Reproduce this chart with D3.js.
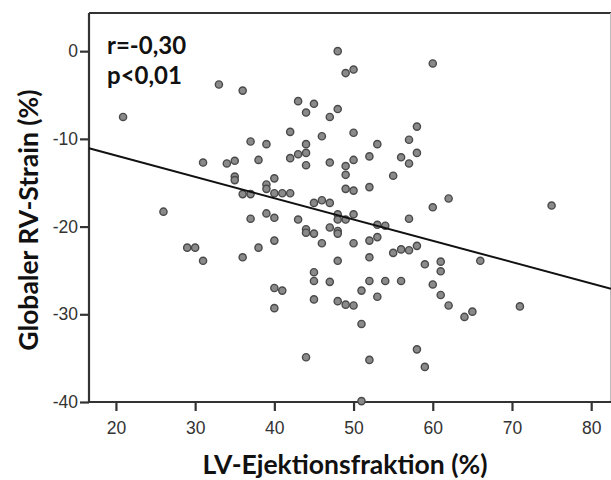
<!DOCTYPE html>
<html>
<head>
<meta charset="utf-8">
<script src="https://cdn.jsdelivr.net/npm/d3@7"></script>
<style>
  html, body { margin: 0; padding: 0; background: #fff; }
  svg { display: block; }
</style>
</head>
<body>
<svg id="chart" width="611" height="480"></svg>
<script>
// LV ejection fraction (%) for each patient
const lvef = [
  20.9, 26, 29, 30, 31, 31, 33, 34, 35, 35, 35, 36, 36, 36, 37, 37, 37, 38, 38,
  39, 39, 39, 39, 40, 40, 40, 40, 40, 40, 41, 41, 42, 42, 42, 43, 43, 43,
  44, 44, 44, 44, 44, 44, 44, 45, 45, 45, 45, 45, 45, 46, 46, 46, 47, 47, 47, 47, 47,
  48, 48, 48, 48, 48, 48, 48, 48, 49, 49, 49, 49, 49, 49, 50, 50, 50, 50, 50, 50, 50,
  51, 51, 51, 52, 52, 52, 52, 52, 52, 53, 53, 53, 53, 54, 54, 55, 55, 56, 56, 56,
  57, 57, 57, 57, 58, 58, 58, 58, 59, 59, 60, 60, 60, 61, 61, 61, 62, 62, 64, 65, 66, 71, 75
];
// Global RV strain (%) for each patient, same order
const rvStrain = [
  -7.5, -18.3, -22.4, -22.4, -23.9, -12.7, -3.8, -12.8, -12.5, -14.3, -14.7, -4.5, -16.3, -23.5, -10.3, -16.3, -19.1, -12.4, -22.4,
  -10.6, -15.2, -15.7, -18.5, -14.5, -16.2, -19.0, -21.6, -27.0, -29.3, -16.2, -27.3, -9.2, -12.2, -16.2, -5.7, -11.75, -19.2,
  -7.0, -10.6, -11.6, -13.0, -20.3, -20.7, -34.9, -6.0, -17.3, -20.8, -25.2, -26.2, -28.3, -9.7, -17.0, -21.9, -7.5, -12.7, -17.3, -20.1, -26.3,
  0.0, -6.6, -18.6, -19.2, -20.5, -20.8, -23.9, -28.5, -2.5, -13.1, -14.1, -15.7, -19.2, -28.9, -2.1, -9.3, -12.4, -15.9, -18.6, -21.9, -29.0,
  -27.3, -31.1, -39.9, -12.0, -15.5, -21.6, -23.5, -26.2, -35.2, -10.6, -19.8, -21.2, -28.0, -19.9, -26.2, -14.2, -23.0, -12.1, -22.6, -26.2,
  -10.1, -12.8, -19.1, -22.7, -8.6, -11.6, -22.2, -34.0, -24.3, -36.0, -1.4, -17.8, -26.6, -24.0, -25.1, -27.8, -16.8, -29.0, -30.3, -29.7, -23.9, -29.1, -17.6
];

// Linear fit: strain = intercept + slope * LVEF
const fitIntercept = -7.04;
const fitSlope = -0.243;

const xTicks = [20, 30, 40, 50, 60, 70, 80];
const yTicks = [0, -10, -20, -30, -40];

const xTitle = "LV-Ejektionsfraktion (%)";
const yTitle = "Globaler RV-Strain (%)";
const statLines = ["r=-0,30", "p<0,01"];

const svg = d3.select("#chart");
const plot = { left: 89, right: 611, top: 13, bottom: 402 };

const x = d3.scaleLinear().domain([16.6, 82.5]).range([plot.left, plot.right]);
const y = d3.scaleLinear().domain([-40, 4.35]).range([plot.bottom, plot.top]);

// Plain hyphen for negative numbers
const fmt = d => String(d);

// Plot frame
svg.append("line")
  .attr("x1", plot.left).attr("x2", plot.right)
  .attr("y1", plot.top).attr("y2", plot.top)
  .attr("stroke", "#333").attr("stroke-width", 2);
svg.append("line")
  .attr("x1", plot.right - 0.5).attr("x2", plot.right - 0.5)
  .attr("y1", plot.top).attr("y2", plot.bottom)
  .attr("stroke", "#bbb").attr("stroke-width", 1);

// Axes
const xAxis = svg.append("g")
  .attr("transform", `translate(0,${plot.bottom})`)
  .call(d3.axisBottom(x).tickValues(xTicks).tickFormat(fmt).tickSize(9).tickSizeOuter(0).tickPadding(11));
const yAxis = svg.append("g")
  .attr("transform", `translate(${plot.left},0)`)
  .call(d3.axisLeft(y).tickValues(yTicks).tickFormat(fmt).tickSize(9).tickSizeOuter(0).tickPadding(2));

[xAxis, yAxis].forEach(g => {
  g.select(".domain").attr("stroke", "#333").attr("stroke-width", 2.2);
  g.selectAll(".tick line").attr("stroke", "#333").attr("stroke-width", 2.2);
  g.selectAll(".tick text")
    .attr("fill", "#333")
    .style("font-family", "'Liberation Sans', Arial, sans-serif")
    .style("font-size", "17.5px");
});
xAxis.select(".domain").attr("d", `M${plot.left},0H${plot.right}`);
yAxis.select(".domain").attr("d", `M0,${plot.top}V${plot.bottom}`);

// Scatter points
svg.append("g")
  .selectAll("circle")
  .data(lvef.map((v, i) => [v, rvStrain[i]]))
  .join("circle")
  .attr("cx", d => x(d[0]))
  .attr("cy", d => y(d[1]))
  .attr("r", 3.6)
  .attr("fill", "#8a8a8a")
  .attr("stroke", "#4a4a4a")
  .attr("stroke-width", 1.4);

// Regression line
const xd = x.domain();
svg.append("line")
  .attr("x1", x(xd[0])).attr("y1", y(fitIntercept + fitSlope * xd[0]))
  .attr("x2", x(xd[1])).attr("y2", y(fitIntercept + fitSlope * xd[1]))
  .attr("stroke", "#111").attr("stroke-width", 2);

// Correlation annotation
svg.append("g")
  .selectAll("text")
  .data(statLines)
  .join("text")
  .attr("x", 107)
  .attr("y", (d, i) => 54 + i * 30)
  .attr("fill", "#111")
  .style("font-family", "Lato, 'Open Sans', sans-serif")
  .style("font-weight", "bold")
  .style("font-size", "24px")
  .text(d => d);

// Axis titles
svg.append("text")
  .attr("x", 345)
  .attr("y", 474)
  .attr("text-anchor", "middle")
  .attr("fill", "#111")
  .style("font-family", "Lato, 'Open Sans', sans-serif")
  .style("font-weight", "bold")
  .style("font-size", "26.5px")
  .text(xTitle);

svg.append("text")
  .attr("transform", "translate(38,220) rotate(-90)")
  .attr("text-anchor", "middle")
  .attr("fill", "#111")
  .style("font-family", "Lato, 'Open Sans', sans-serif")
  .style("font-weight", "bold")
  .style("font-size", "26.5px")
  .text(yTitle);
</script>
</body>
</html>
